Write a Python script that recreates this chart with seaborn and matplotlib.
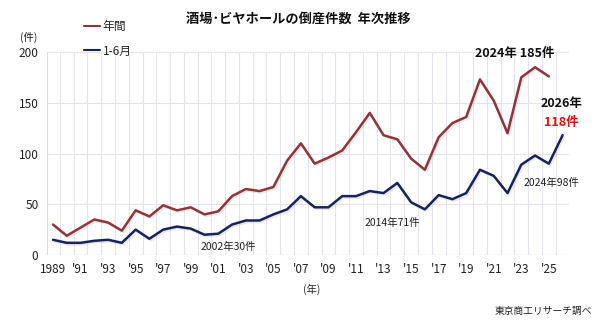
import numpy as np
import pandas as pd
import matplotlib
matplotlib.use("Agg")
import matplotlib.pyplot as plt
import matplotlib.patheffects as pe
from matplotlib.ticker import MultipleLocator, FixedLocator
import seaborn as sns

# values
years_annual = list(range(1989, 2026))
annual = [30, 19, 27, 35, 32, 24, 44, 38, 49, 44, 47, 40, 43, 58, 65, 63, 67, 93, 110,
          90, 96, 103, 121, 140, 118, 114, 95, 84, 116, 130, 136, 173, 152, 120, 175, 185, 176]
years_h1 = list(range(1989, 2027))
h1 = [15, 12, 12, 14, 15, 12, 25, 16, 25, 28, 26, 20, 21, 30, 34, 34, 40, 45, 58,
      47, 47, 58, 58, 63, 61, 71, 52, 45, 59, 55, 61, 84, 78, 61, 89, 98, 90, 118]
tick_years = list(range(1989, 2026, 2))
tick_labels = ["1989"] + ["'%02d" % (y % 100) for y in tick_years[1:]]

sns.set_theme(style="white")
plt.rcParams["font.family"] = ["Noto Sans CJK JP", "DejaVu Sans"]

red = "#8e363c"
navy = "#1a2358"

fig = plt.figure(figsize=(6, 3.21), dpi=100)
ax = fig.add_axes([0.078, 0.2056, 0.87, 0.6324])

shadow = [pe.SimpleLineShadow(offset=(1, -1.2), shadow_color="#aaaaaa", alpha=0.25), pe.Normal()]
df_a = pd.DataFrame({"year": years_annual, "count": annual})
df_h = pd.DataFrame({"year": years_h1, "count": h1})
sns.lineplot(data=df_a, x="year", y="count", ax=ax, color=red, lw=1.8, label="年間",
             path_effects=shadow)
sns.lineplot(data=df_h, x="year", y="count", ax=ax, color=navy, lw=1.8, label="1-6月",
             path_effects=shadow)

ax.set_xlim(1988.55, 2026.45)
ax.set_ylim(0, 200)
ax.set_xlabel("")
ax.set_ylabel("")
ax.xaxis.set_major_locator(FixedLocator(tick_years))
ax.set_xticklabels(tick_labels)
ax.xaxis.set_minor_locator(FixedLocator(np.arange(1989.5, 2026.5, 1)))
ax.yaxis.set_major_locator(MultipleLocator(50))
ax.tick_params(axis="both", which="both", length=0, labelsize=8.5, colors="#222222")
ax.tick_params(axis="x", pad=6)
ax.tick_params(axis="y", pad=6)
ax.grid(which="minor", axis="x", color="#e4e4ea", lw=0.8)
ax.grid(which="major", axis="y", color="#e4e4ea", lw=0.8)
for s in ax.spines.values():
    s.set_visible(False)
ax.axvline(1988.55, color="#dddddd", lw=0.8)
ax.axhline(0, color="#dddddd", lw=0.8)

leg = ax.legend(loc="upper left", bbox_to_anchor=(0.122, 0.97), bbox_transform=fig.transFigure,
                frameon=False, fontsize=8.5, handlelength=1.4, handletextpad=0.2,
                labelspacing=0.95)
for line in leg.get_lines():
    line.set_linewidth(1.5)
    line.set_path_effects([])

fig.text(0.497, 0.943, "酒場･ビヤホールの倒産件数  年次推移", ha="center", va="center",
         fontsize=9.5, fontweight="bold", color="#111111")
fig.text(0.047, 0.882, "(件)", ha="center", va="center", fontsize=7.5, color="#222222")
fig.text(0.519, 0.098, "(年)", ha="center", va="center", fontsize=7.5, color="#222222")
fig.text(0.987, 0.03, "東京商工リサーチ調べ", ha="right", va="center", fontsize=7, color="#222222")

ax.text(2001.7, 8, "2002年30件", ha="center", va="center", fontsize=7.5, color="#222222")
ax.text(2013.6, 32, "2014年71件", ha="center", va="center", fontsize=7.5, color="#222222")
ax.text(2025.2, 70.5, "2024年98件", ha="center", va="center", fontsize=7.5, color="#222222")
ax.text(2022.5, 199, "2024年 185件", ha="center", va="center", fontsize=9, fontweight="bold",
        color="#111111", clip_on=False)
ax.text(2025.9, 149.5, "2026年", ha="center", va="center", fontsize=9, fontweight="bold",
        color="#111111")
ax.text(2025.9, 131, "118件", ha="center", va="center", fontsize=9, fontweight="bold",
        color="#e01010")

fig.savefig("out.png", dpi=100, facecolor="white")
